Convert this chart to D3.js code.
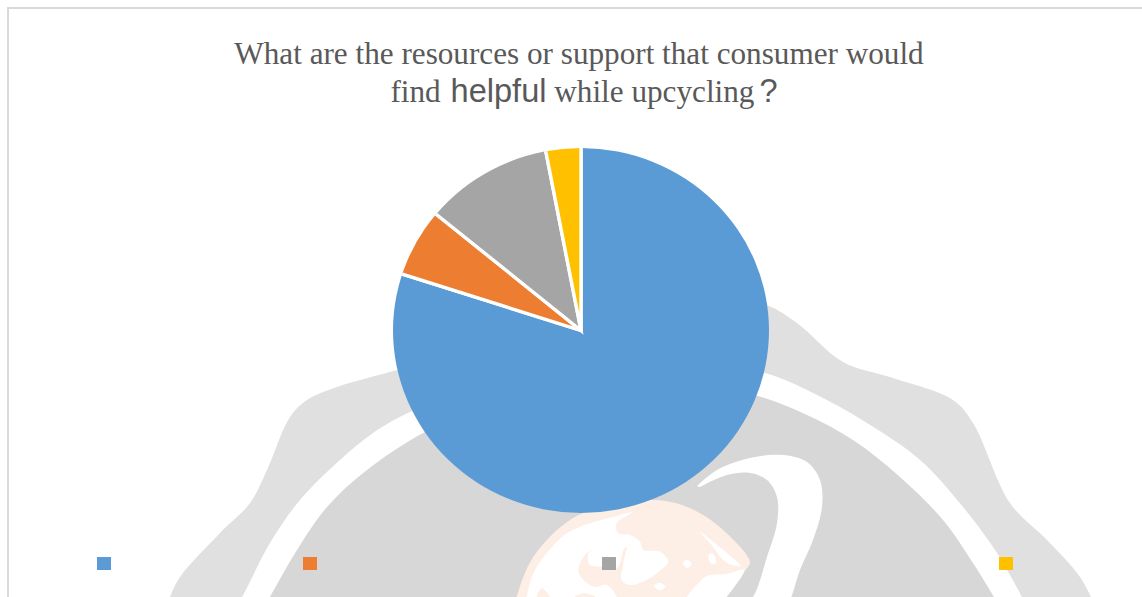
<!DOCTYPE html>
<html>
<head>
<meta charset="utf-8">
<script src="https://cdn.jsdelivr.net/npm/d3@7/dist/d3.min.js"></script>
<style>
  html, body { margin: 0; padding: 0; background: #fff; overflow: hidden; }
  svg { display: block; }
</style>
</head>
<body>
<svg id="chart" width="1142" height="597"></svg>
<script>
// Share of respondents per slice, clockwise from twelve o'clock
const sliceShares = [80, 6, 11, 3];
const sliceColors = ["#5b9bd5", "#ed7d31", "#a5a5a5", "#ffc000"];
const titleLines = [
  [{ text: "What are the resources or support that consumer would", face: "serif" }],
  [
    { text: "find ", face: "serif" },
    { text: "helpful", face: "sans", nudge: 2 },
    { text: " while upcycling", face: "serif" },
    { text: "?", face: "sans", nudge: 5 }
  ]
];

// Layout
const width = 1142, height = 597;
const pieCenter = { x: 581, y: 330.5 };
const pieRadiusX = 188, pieRadiusY = 182.5;
const sliceGap = 3.4;
const legendLeft = [97, 303, 602, 999];
const legendTop = 557, legendW = 14, legendH = 13;

const svg = d3.select("#chart");
svg.append("rect").attr("width", width).attr("height", height).attr("fill", "#fff");

const defs = svg.append("defs");
defs.append("filter").attr("id", "soft")
  .append("feGaussianBlur").attr("stdDeviation", 0.5);
defs.append("clipPath").attr("id", "pie-outline")
  .append("circle").attr("r", pieRadiusX);

// Faint emblem sitting behind the chart
const emblem = svg.append("g").attr("filter", "url(#soft)");

const blob = d3.line().curve(d3.curveCatmullRom.alpha(0.5));
const closedBlob = d3.line().curve(d3.curveCatmullRomClosed.alpha(0.5));
const drawOpen = (pts, fill) => emblem.append("path").attr("d", blob(pts) + "Z").attr("fill", fill);
const drawClosed = (pts, fill) => emblem.append("path").attr("d", closedBlob(pts)).attr("fill", fill);
// Planet details are listed in thirds of a pixel from the planet box corner
const planet = pts => pts.map(([x, y]) => [510 + x / 3, 500 + y / 3]);

drawOpen([[165,612],[170,597],[180,577],[220,533],[250,503],[267,470],[290,417],[307,400],[337,387],[397,370],
  [480,345],[560,320],[640,300],[710,290],[767,305],[797,323],[843,362],[893,378],[953,400],[973,423],
  [1010,503],[1047,540],[1080,577],[1098,612]], "#e0e0e0");
drawOpen([[232,612],[242,597],[270,543],[300,500],[340,460],[373,433],[410,412],[480,385],[580,365],[680,360],
  [765,373],[813,393],[867,423],[920,460],[963,507],[997,553],[1030,612]], "#ffffff");
drawOpen([[262,612],[270,597],[297,550],[327,507],[367,470],[425,432],[500,400],[600,385],[700,385],
  [758,396],[807,415],[853,440],[900,477],[943,520],[973,563],[1003,612]], "#d7d7d7");

// Planet and its pale landmasses
drawOpen(planet([[10,330],[20,291],[40,230],[70,170],[120,110],[180,60],[240,30],[330,5],[430,0],[500,10],[580,45],
  [650,100],[710,165],[720,190],[705,212],[650,291],[620,330]]), "#fdeee6");
drawOpen(planet([[45,330],[50,291],[70,220],[110,160],[170,100],[240,70],[310,50],[365,38],[320,70],[325,100],
  [360,105],[390,125],[400,150],[450,155],[475,185],[440,220],[410,240],[360,255],[335,240],[340,190],[350,140],
  [340,150],[330,190],[315,210],[280,200],[240,195],[235,160],[255,150],[230,160],[205,215],[250,260],[290,255],
  [320,291],[320,330]]), "#ffffff");
drawClosed(planet([[80,295],[95,265],[120,295],[100,310]]), "#fdeee6");
drawClosed(planet([[190,295],[220,280],[255,290],[225,305]]), "#fdeee6");
drawOpen(planet([[510,330],[530,291],[565,250],[590,228],[650,222],[702,210],[670,265],[640,300],[610,330]]), "#ffffff");
drawClosed(planet([[570,95],[640,150],[692,198],[652,190],[600,130]]), "#ffffff");
drawClosed(planet([[518,190],[532,180],[545,192],[532,204]]), "#ffffff");
drawClosed(planet([[432,258],[448,248],[466,260],[450,271]]), "#ffffff");
drawClosed(planet([[595,165],[608,160],[618,190],[605,192]]), "#ffffff");

// Swoosh curving around the planet
drawOpen([[697,486],[717,470],[750,458],[783,455],[807,462],[820,480],[822,507],[813,540],[800,570],[790,600],[782,612],
  [738,612],[753,597],[767,557],[777,523],[777,497],[767,480],[750,473],[727,475],[700,487]], "#ffffff");

// Chart frame, open on the right and bottom
svg.append("path").attr("d", `M8,${height}V8H${width}`)
  .attr("fill", "none").attr("stroke", "#d9d9d9").attr("stroke-width", 2);

// Title: two typefaces on the same lines
const title = svg.append("text").attr("text-anchor", "middle").attr("fill", "#595959");
const titleCenter = [579, 584];
titleLines.forEach((runs, i) => {
  runs.forEach((run, j) => {
    const t = title.append("tspan")
      .attr("font-family", run.face === "serif" ? "'Liberation Serif', serif" : "'Liberation Sans', sans-serif")
      .attr("font-size", run.face === "serif" ? 31.2 : 32.6)
      .attr("style", "white-space:pre")
      .text(run.text);
    if (run.nudge) t.attr("dx", run.nudge);
    if (j === 0) t.attr("x", titleCenter[i]).attr("y", 64 + i * 38);
  });
});

// Pie: white slice outlines give even gaps; the clip keeps them off the rim
const pie = d3.pie().sort(null).startAngle(0).endAngle(2 * Math.PI);
const arc = d3.arc().innerRadius(0).outerRadius(pieRadiusX + 4);

svg.append("g")
  .attr("transform", `translate(${pieCenter.x},${pieCenter.y}) scale(1,${pieRadiusY / pieRadiusX})`)
  .attr("clip-path", "url(#pie-outline)")
  .selectAll("path")
  .data(pie(sliceShares))
  .join("path")
  .attr("d", arc)
  .attr("fill", (d, i) => sliceColors[i])
  .attr("stroke", "#fff")
  .attr("stroke-width", sliceGap)
  .attr("stroke-linejoin", "miter");

// Legend keys
svg.append("g").selectAll("rect")
  .data(sliceColors)
  .join("rect")
  .attr("x", (d, i) => legendLeft[i])
  .attr("y", legendTop)
  .attr("width", legendW)
  .attr("height", legendH)
  .attr("fill", d => d);
</script>
</body>
</html>
